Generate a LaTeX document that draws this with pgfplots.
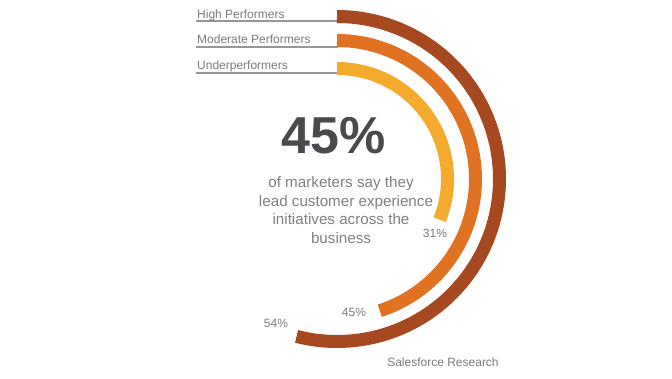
\documentclass[border=0pt]{standalone}
\usepackage{pgfplots}
\pgfplotsset{compat=1.18}
\usepackage{fontspec}
\setmainfont{Liberation Sans}
\definecolor{hp}{RGB}{166,72,32}
\definecolor{mp}{RGB}{224,114,34}
\definecolor{up}{RGB}{244,170,44}
\definecolor{lbl}{RGB}{122,122,122}
\definecolor{body}{RGB}{128,128,128}
\definecolor{big}{RGB}{74,74,78}
\definecolor{rule}{RGB}{150,150,150}
\begin{document}
\begin{tikzpicture}
\begin{axis}[
  width=672pt, height=378pt, scale only axis,
  xmin=0, xmax=672, ymin=0, ymax=378, y dir=reverse,
  hide axis, clip=false,
]
\path (rel axis cs:0,0) rectangle (rel axis cs:1,1);
% leader lines
\addplot[rule, line width=1.1pt, no marks] coordinates {(196,21) (338,21)};
\addplot[rule, line width=1.1pt, no marks] coordinates {(196,47) (338,47)};
\addplot[rule, line width=1.1pt, no marks] coordinates {(196,73) (338,73)};
% radial bars: High 54%, Moderate 45%, Under 31%
\addplot[hp, line width=13pt, line cap=butt, no marks, domain=0:54, samples=160]
  ({337+162.5*cos(90-3.6*x)}, {179-162.5*sin(90-3.6*x)});
\addplot[mp, line width=13pt, line cap=butt, no marks, domain=0:45, samples=140]
  ({337+138.5*cos(90-3.6*x)}, {179-138.5*sin(90-3.6*x)});
\addplot[up, line width=13pt, line cap=butt, no marks, domain=0:31, samples=110]
  ({337+110.5*cos(90-3.6*x)}, {179-110.5*sin(90-3.6*x)});
% category labels
\node[anchor=base west, inner sep=0pt, text=lbl, font=\fontsize{12}{14}\selectfont] at (axis cs:197,18) {High Performers};
\node[anchor=base west, inner sep=0pt, text=lbl, font=\fontsize{12}{14}\selectfont] at (axis cs:197,43.5) {Moderate Performers};
\node[anchor=base west, inner sep=0pt, text=lbl, font=\fontsize{12}{14}\selectfont] at (axis cs:197,69) {Underperformers};
% value labels
\node[inner sep=0pt, text=lbl, font=\fontsize{12}{14}\selectfont] at (axis cs:276,323) {54\%};
\node[inner sep=0pt, text=lbl, font=\fontsize{12}{14}\selectfont] at (axis cs:354,312) {45\%};
\node[inner sep=0pt, text=lbl, font=\fontsize{12}{14}\selectfont] at (axis cs:435,233) {31\%};
% center text
\node[anchor=base, inner sep=0pt, text=big, font=\fontsize{52}{52}\selectfont\bfseries] at (axis cs:334,153) {45\%};
\node[anchor=base, inner sep=0pt, text=body, font=\fontsize{15.2}{18.6}\selectfont] at (axis cs:341,187.5) {of marketers say they};
\node[anchor=base, inner sep=0pt, text=body, font=\fontsize{15.2}{18.6}\selectfont] at (axis cs:346,206) {lead customer experience};
\node[anchor=base, inner sep=0pt, text=body, font=\fontsize{15.2}{18.6}\selectfont] at (axis cs:341,224.5) {initiatives across the};
\node[anchor=base, inner sep=0pt, text=body, font=\fontsize{15.2}{18.6}\selectfont] at (axis cs:341,243) {business};
% source
\node[inner sep=0pt, text=lbl, font=\fontsize{12}{14}\selectfont] at (axis cs:443,362) {Salesforce Research};
\end{axis}
\end{tikzpicture}
\end{document}
